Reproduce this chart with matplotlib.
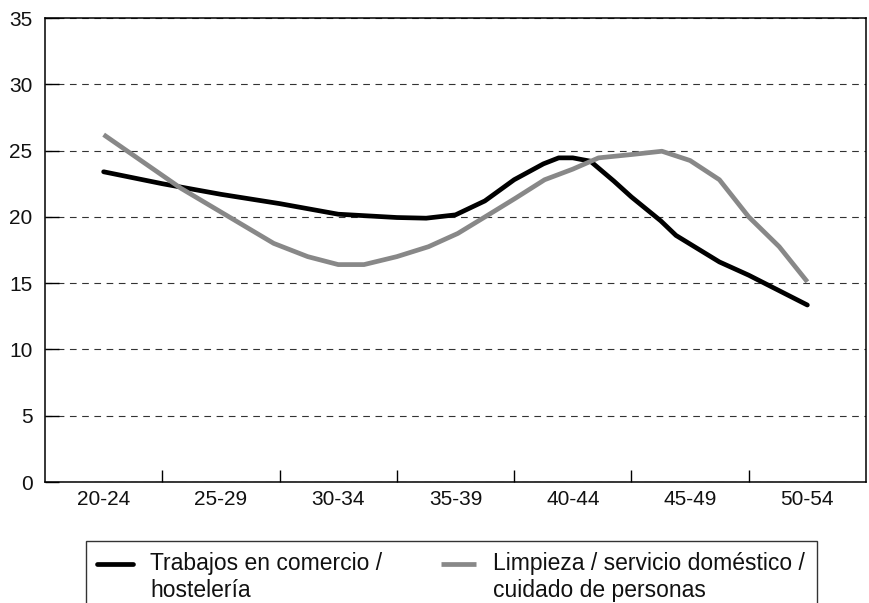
import matplotlib
matplotlib.use("Agg")
import matplotlib.pyplot as plt
from matplotlib.ticker import FixedLocator
from matplotlib.legend_handler import HandlerLine2D

# ---- data ----
age_groups = ["20-24", "25-29", "30-34", "35-39", "40-44", "45-49", "50-54"]
yticks = [0, 5, 10, 15, 20, 25, 30, 35]

# positions along the age-group axis (0 = "20-24", 6 = "50-54") and values
comercio_pos = [0, 0.5, 1.0, 1.5, 2.0, 2.5, 2.75, 3.0, 3.25, 3.5, 3.75, 3.88, 4.0, 4.15,
                4.35, 4.5, 4.75, 4.88, 5.25, 5.5, 6.0]
comercio_val = [23.4, 22.5, 21.7, 21.0, 20.2, 19.95, 19.9, 20.15, 21.2, 22.8, 24.0, 24.45,
                24.45, 24.2, 22.7, 21.5, 19.7, 18.6, 16.6, 15.6, 13.35]

limpieza_pos = [0, 0.66, 1.45, 1.74, 2.0, 2.22, 2.5, 2.77, 3.02, 3.28, 3.51, 3.76, 4.0,
                4.22, 4.5, 4.76, 5.0, 5.25, 5.5, 5.76, 6.0]
limpieza_val = [26.2, 22.15, 18.0, 17.0, 16.4, 16.4, 17.0, 17.75, 18.75, 20.15, 21.4, 22.8,
                23.6, 24.45, 24.7, 24.95, 24.25, 22.8, 20.0, 17.75, 15.1]

label_comercio = "Trabajos en comercio /\nhostelería"
label_limpieza = "Limpieza / servicio doméstico /\ncuidado de personas"

plt.rcParams['font.family'] = ['Liberation Sans', 'DejaVu Sans']

LEG_FS = 16.5
TICK_FS = 15


class FirstLineHandler(HandlerLine2D):
    """Place the legend line next to the first line of a two-line label."""
    def create_artists(self, legend, orig_handle, xdescent, ydescent, width, height,
                       fontsize, trans):
        artists = super().create_artists(legend, orig_handle, xdescent, ydescent,
                                         width, height, fontsize, trans)
        for a in artists:
            yd = a.get_ydata()
            a.set_ydata([y + 0.6 * fontsize for y in yd])
        return artists


fig = plt.figure(figsize=(8.69, 6.03), dpi=100)
ax = fig.add_axes([45/869, 1-482/603, (866-45)/869, (482-18)/603])

l1, = ax.plot(comercio_pos, comercio_val, color="black", lw=3.4, solid_capstyle="round",
              solid_joinstyle="round", label=label_comercio, zorder=3)
l2, = ax.plot(limpieza_pos, limpieza_val, color="#888888", lw=3.4, solid_capstyle="butt",
              solid_joinstyle="round", label=label_limpieza, zorder=3)

ax.set_xlim(-0.5, len(age_groups) - 0.5)
ax.set_ylim(0, 35)
ax.set_yticks(yticks)
ax.set_xticks(range(len(age_groups)))
ax.set_xticklabels(age_groups)
ax.xaxis.set_minor_locator(FixedLocator([i + 0.5 for i in range(len(age_groups) - 1)]))

ax.tick_params(axis="x", which="major", length=0, pad=6, labelsize=TICK_FS, labelcolor="#111111")
ax.tick_params(axis="x", which="minor", direction="in", length=9, width=1.0, color="black")
ax.tick_params(axis="y", direction="in", length=10, width=1.0, pad=9, labelsize=TICK_FS,
               labelcolor="#111111")

ax.yaxis.grid(True, linestyle=(0, (6, 5)), color="#333333", lw=0.8)
ax.set_axisbelow(True)
for s in ax.spines.values():
    s.set_linewidth(1.1)
    s.set_color("black")

leg = fig.legend(handles=[l1, l2], loc="upper left", bbox_to_anchor=(86/869, 1-541/603),
                 ncol=2, frameon=True, fancybox=False, fontsize=LEG_FS,
                 handlelength=1.55, handletextpad=0.75, borderpad=0.5, columnspacing=2.55,
                 edgecolor="black", borderaxespad=0,
                 handler_map={matplotlib.lines.Line2D: FirstLineHandler()})
leg.get_frame().set_linewidth(1.0)
for t in leg.get_texts():
    t.set_color("#111111")

fig.savefig("out.png", dpi=100)
